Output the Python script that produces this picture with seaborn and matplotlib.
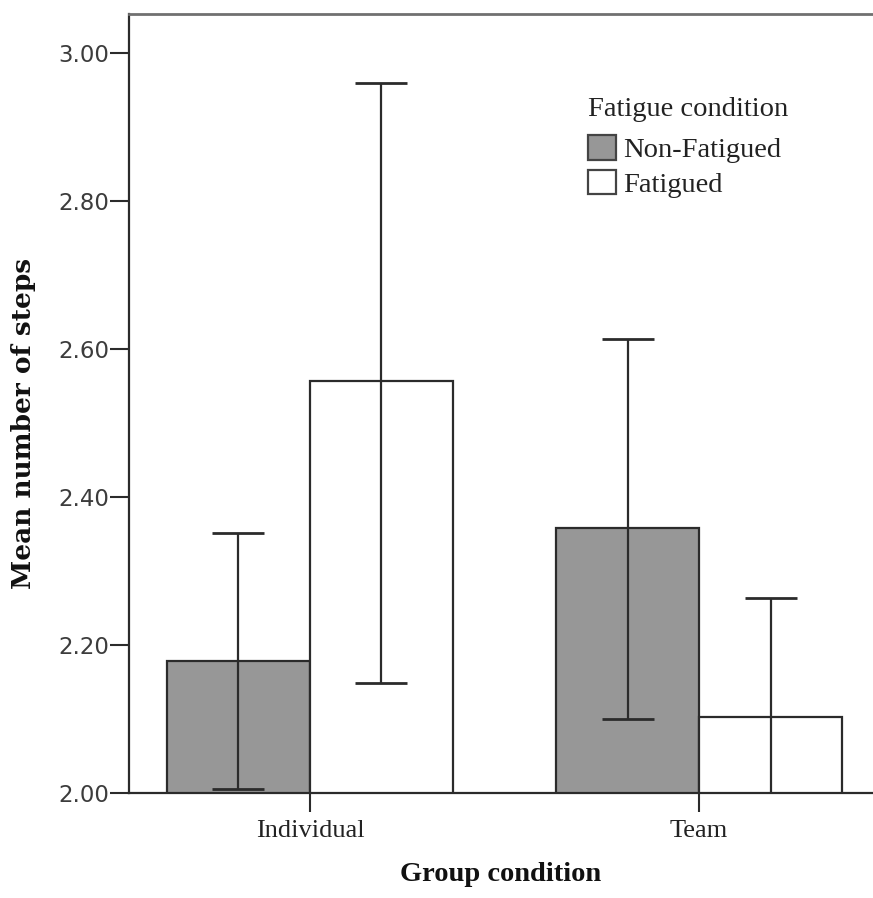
import numpy as np
import pandas as pd
import matplotlib
matplotlib.use("Agg")
import matplotlib.pyplot as plt
import seaborn as sns

# values
groups = ["Individual", "Individual", "Team", "Team"]
fatigue = ["Non-Fatigued", "Fatigued", "Non-Fatigued", "Fatigued"]
mean_steps = [2.178, 2.557, 2.358, 2.103]
ci_low = [2.005, 2.149, 2.100, 1.943]
ci_high = [2.351, 2.960, 2.614, 2.263]

df = pd.DataFrame({"group": groups, "fatigue": fatigue, "steps": mean_steps})

sns.set_style("white")
serif = ["Liberation Serif", "DejaVu Serif"]

fig = plt.figure(figsize=(8.73, 8.98), dpi=100)
ax = fig.add_axes([0.1478, 0.1169, 0.8522, 0.8675])

sns.barplot(data=df, x="group", y="steps", hue="fatigue",
            hue_order=["Non-Fatigued", "Fatigued"],
            palette=["#979797", "#ffffff"], width=0.735, gap=0,
            errorbar=None, edgecolor="#2b2b2b", linewidth=1.6, ax=ax)

# error bars, placed at the bar centres seaborn laid out
for cont, lvl in zip(ax.containers, ["Non-Fatigued", "Fatigued"]):
    for bar in cont:
        xc = bar.get_x() + bar.get_width() / 2
        g = "Individual" if xc < 0.5 else "Team"
        k = [j for j in range(4) if groups[j] == g and fatigue[j] == lvl][0]
        ax.errorbar(xc, mean_steps[k],
                    yerr=[[mean_steps[k] - ci_low[k]], [ci_high[k] - mean_steps[k]]],
                    fmt="none", ecolor="#2b2b2b", elinewidth=1.6,
                    capsize=18.5, capthick=2.0, zorder=5)

ax.set_ylim(2.0, 3.053)
ax.set_xlim(-0.465, 1.447)
yt = [2.0, 2.2, 2.4, 2.6, 2.8, 3.0]
ax.set_yticks(yt)
ax.set_yticklabels([f"{v:.2f}" for v in yt], fontsize=16.5,
                   color="#3c3c3c", family="DejaVu Sans")
for lab in ax.get_xticklabels():
    lab.set_fontfamily(serif)
    lab.set_fontsize(19)
    lab.set_color("#222222")

ax.tick_params(axis="both", direction="out", length=13.5, width=1.5,
               color="#2b2b2b", left=True, bottom=True)
ax.tick_params(axis="y", pad=1)
ax.tick_params(axis="x", pad=6)

for side in ["left", "bottom"]:
    ax.spines[side].set_color("#2b2b2b")
    ax.spines[side].set_linewidth(1.6)
ax.spines["top"].set_color("#707070")
ax.spines["top"].set_linewidth(2)
ax.spines["right"].set_visible(False)

ax.set_xlabel("Group condition", fontsize=20.5, fontweight="bold",
              family=serif, labelpad=14, color="#111111")
ax.set_ylabel("Mean number of steps", fontsize=19, fontweight="bold",
              family="DejaVu Serif", color="#111111")
ax.yaxis.set_label_coords(-0.125, 0.474)

# legend: title drawn as its own text so the gap above the entries matches
fig.text(588 / 873, 1 - 116 / 898, "Fatigue condition", family=serif,
         fontsize=20.5, color="#222222", ha="left", va="baseline")
leg = ax.legend(loc="upper left",
                bbox_to_anchor=(588 / 873, 1 - 135 / 898),
                bbox_transform=fig.transFigure, frameon=False,
                prop={"family": serif, "size": 20.5},
                handlelength=0.97, handleheight=0.95, handletextpad=0.28,
                labelspacing=0.24, borderpad=0, borderaxespad=0)
for h in leg.legend_handles:
    h.set_edgecolor("#444444")
    h.set_linewidth(1.6)
for t in leg.get_texts():
    t.set_color("#222222")

fig.savefig("out.png", dpi=100)
